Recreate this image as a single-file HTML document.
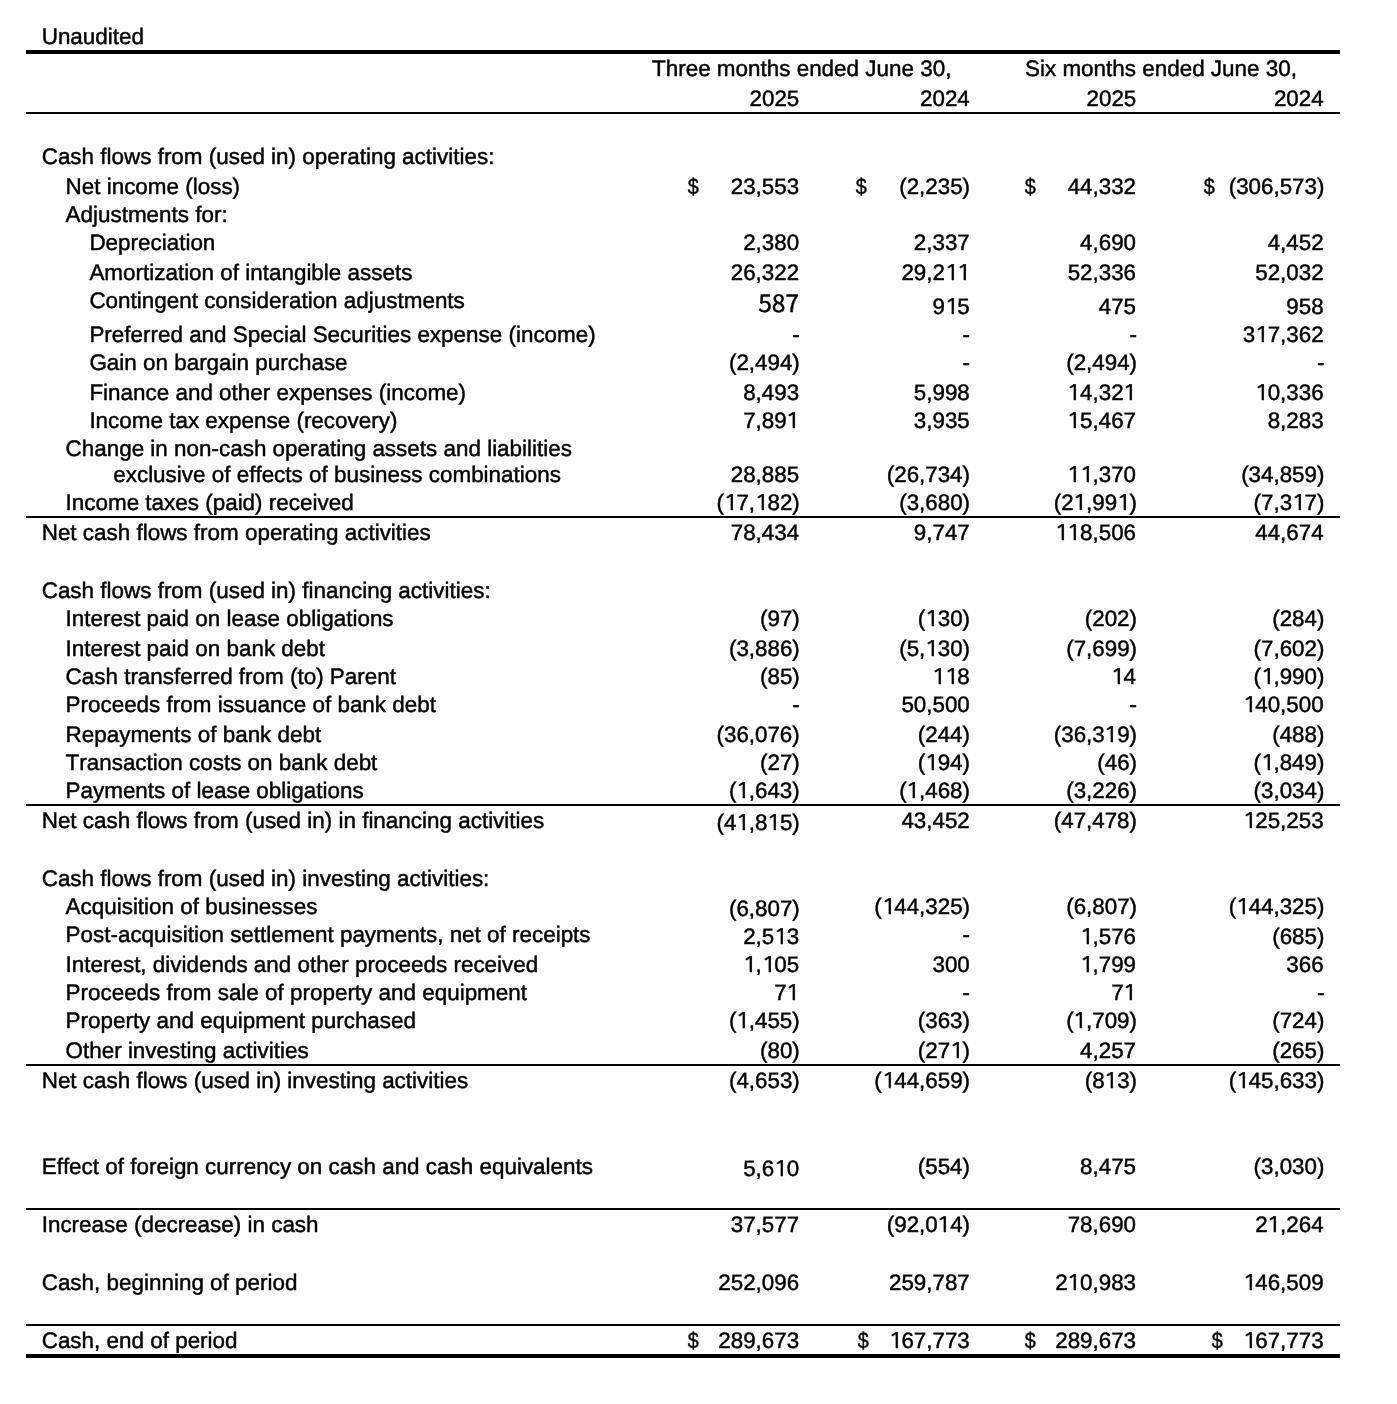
<!DOCTYPE html>
<html lang="en"><head><meta charset="utf-8"><title>Statement of Cash Flows</title>
<style>
html,body{margin:0;padding:0;background:#fff;}
body{width:1397px;height:1404px;position:relative;overflow:hidden;font-family:"Liberation Sans",sans-serif;font-size:22.45px;line-height:25px;color:#000;}
.t{position:absolute;white-space:pre;margin:0;font-kerning:none;-webkit-text-stroke:0.45px #000;text-rendering:geometricPrecision;}
.r{text-align:right;font-size:22.35px;}
.d{transform:scaleX(0.88);transform-origin:6.19px 20px;}
.hr{position:absolute;background:#000;}
.o{display:inline-block;width:0.5836em;line-height:0;font-family:"NanumGothic","Liberation Sans",sans-serif;font-size:21.3px;transform:scaleX(1.243);transform-origin:0 50%;position:relative;left:-1.3px;text-align:left;}
.sp{font-family:"Noto Sans CJK SC","DejaVu Sans",sans-serif;font-size:24.6px;}
</style></head><body>
<div class="hr" style="left:26px;top:50px;width:1314px;height:4px"></div>
<div class="hr" style="left:26px;top:112px;width:1314px;height:2px"></div>
<div class="hr" style="left:26px;top:516px;width:1314px;height:2px"></div>
<div class="hr" style="left:26px;top:804px;width:1314px;height:2px"></div>
<div class="hr" style="left:26px;top:1064px;width:1314px;height:2px"></div>
<div class="hr" style="left:26px;top:1208px;width:1314px;height:2px"></div>
<div class="hr" style="left:26px;top:1324px;width:1314px;height:2px"></div>
<div class="hr" style="left:26px;top:1354px;width:1314px;height:4px"></div>
<div class="t" style="left:652px;top:56px">Three months ended June 30,</div>
<div class="t" style="left:1025px;top:56px">Six months ended June 30,</div>
<div class="t r" style="right:597.7px;top:86px">2025</div>
<div class="t r" style="right:427.2px;top:86px">2024</div>
<div class="t r" style="right:260.7px;top:86px">2025</div>
<div class="t r" style="right:73.4px;top:86px">2024</div>
<div class="t" style="left:41.7px;top:24px">Unaudited</div>
<div class="t" style="left:41.7px;top:144px">Cash flows from (used in) operating activities:</div>
<div class="t" style="left:65.54px;top:174px">Net income (loss)</div>
<div class="t r" style="right:597.9px;top:174px">23,553</div>
<div class="t r" style="right:427px;top:174px">(2,235)</div>
<div class="t r" style="right:261px;top:174px">44,332</div>
<div class="t r" style="right:72.6px;top:174px">(306,573)</div>
<div class="t d" style="left:686.7px;top:174px">$</div>
<div class="t d" style="left:855px;top:174px">$</div>
<div class="t d" style="left:1023.7px;top:174px">$</div>
<div class="t d" style="left:1203px;top:174px">$</div>
<div class="t" style="left:65.54px;top:202px">Adjustments for:</div>
<div class="t" style="left:89.38px;top:230px">Depreciation</div>
<div class="t r" style="right:597.9px;top:230px">2,380</div>
<div class="t r" style="right:427.25px;top:230px">2,337</div>
<div class="t r" style="right:261px;top:230px">4,690</div>
<div class="t r" style="right:73.4px;top:230px">4,452</div>
<div class="t" style="left:89.38px;top:260px">Amortization of intangible assets</div>
<div class="t r" style="right:597.9px;top:260px">26,322</div>
<div class="t r" style="right:427.25px;top:260px">29,2<span class="o">1</span><span class="o">1</span></div>
<div class="t r" style="right:261px;top:260px">52,336</div>
<div class="t r" style="right:73.4px;top:260px">52,032</div>
<div class="t" style="left:89.38px;top:288px">Contingent consideration adjustments</div>
<div class="t r sp" style="right:597.9px;top:290px">587</div>
<div class="t r" style="right:427.25px;top:294px">9<span class="o">1</span>5</div>
<div class="t r" style="right:261px;top:294px">475</div>
<div class="t r" style="right:73.4px;top:294px">958</div>
<div class="t" style="left:89.38px;top:322px">Preferred and Special Securities expense (income)</div>
<div class="t r" style="right:597.25px;top:322px">-</div>
<div class="t r" style="right:427px;top:322px">-</div>
<div class="t r" style="right:260px;top:322px">-</div>
<div class="t r" style="right:73.4px;top:322px">3<span class="o">1</span>7,362</div>
<div class="t" style="left:89.38px;top:350px">Gain on bargain purchase</div>
<div class="t r" style="right:597.25px;top:350px">(2,494)</div>
<div class="t r" style="right:427px;top:350px">-</div>
<div class="t r" style="right:260px;top:350px">(2,494)</div>
<div class="t r" style="right:72.6px;top:350px">-</div>
<div class="t" style="left:89.38px;top:380px">Finance and other expenses (income)</div>
<div class="t r" style="right:597.9px;top:380px">8,493</div>
<div class="t r" style="right:427.25px;top:380px">5,998</div>
<div class="t r" style="right:261px;top:380px"><span class="o">1</span>4,32<span class="o">1</span></div>
<div class="t r" style="right:73.4px;top:380px"><span class="o">1</span>0,336</div>
<div class="t" style="left:89.38px;top:408px">Income tax expense (recovery)</div>
<div class="t r" style="right:597.9px;top:408px">7,89<span class="o">1</span></div>
<div class="t r" style="right:427.25px;top:408px">3,935</div>
<div class="t r" style="right:261px;top:408px"><span class="o">1</span>5,467</div>
<div class="t r" style="right:73.4px;top:408px">8,283</div>
<div class="t" style="left:65.54px;top:436px">Change in non-cash operating assets and liabilities</div>
<div class="t" style="left:113.22px;top:462px">exclusive of effects of business combinations</div>
<div class="t r" style="right:597.9px;top:462px">28,885</div>
<div class="t r" style="right:427px;top:462px">(26,734)</div>
<div class="t r" style="right:261px;top:462px"><span class="o">1</span><span class="o">1</span>,370</div>
<div class="t r" style="right:72.6px;top:462px">(34,859)</div>
<div class="t" style="left:65.54px;top:490px">Income taxes (paid) received</div>
<div class="t r" style="right:597.25px;top:490px">(<span class="o">1</span>7,<span class="o">1</span>82)</div>
<div class="t r" style="right:427px;top:490px">(3,680)</div>
<div class="t r" style="right:260px;top:490px">(2<span class="o">1</span>,99<span class="o">1</span>)</div>
<div class="t r" style="right:72.6px;top:490px">(7,3<span class="o">1</span>7)</div>
<div class="t" style="left:41.7px;top:520px">Net cash flows from operating activities</div>
<div class="t r" style="right:597.9px;top:520px">78,434</div>
<div class="t r" style="right:427.25px;top:520px">9,747</div>
<div class="t r" style="right:261px;top:520px"><span class="o">1</span><span class="o">1</span>8,506</div>
<div class="t r" style="right:73.4px;top:520px">44,674</div>
<div class="t" style="left:41.7px;top:578px">Cash flows from (used in) financing activities:</div>
<div class="t" style="left:65.54px;top:606px">Interest paid on lease obligations</div>
<div class="t r" style="right:597.25px;top:606px">(97)</div>
<div class="t r" style="right:427px;top:606px">(<span class="o">1</span>30)</div>
<div class="t r" style="right:260px;top:606px">(202)</div>
<div class="t r" style="right:72.6px;top:606px">(284)</div>
<div class="t" style="left:65.54px;top:636px">Interest paid on bank debt</div>
<div class="t r" style="right:597.25px;top:636px">(3,886)</div>
<div class="t r" style="right:427px;top:636px">(5,<span class="o">1</span>30)</div>
<div class="t r" style="right:260px;top:636px">(7,699)</div>
<div class="t r" style="right:72.6px;top:636px">(7,602)</div>
<div class="t" style="left:65.54px;top:664px">Cash transferred from (to) Parent</div>
<div class="t r" style="right:597.25px;top:664px">(85)</div>
<div class="t r" style="right:427.25px;top:664px"><span class="o">1</span><span class="o">1</span>8</div>
<div class="t r" style="right:261px;top:664px"><span class="o">1</span>4</div>
<div class="t r" style="right:72.6px;top:664px">(<span class="o">1</span>,990)</div>
<div class="t" style="left:65.54px;top:692px">Proceeds from issuance of bank debt</div>
<div class="t r" style="right:597.25px;top:692px">-</div>
<div class="t r" style="right:427.25px;top:692px">50,500</div>
<div class="t r" style="right:260px;top:692px">-</div>
<div class="t r" style="right:73.4px;top:692px"><span class="o">1</span>40,500</div>
<div class="t" style="left:65.54px;top:722px">Repayments of bank debt</div>
<div class="t r" style="right:597.25px;top:722px">(36,076)</div>
<div class="t r" style="right:427px;top:722px">(244)</div>
<div class="t r" style="right:260px;top:722px">(36,3<span class="o">1</span>9)</div>
<div class="t r" style="right:72.6px;top:722px">(488)</div>
<div class="t" style="left:65.54px;top:750px">Transaction costs on bank debt</div>
<div class="t r" style="right:597.25px;top:750px">(27)</div>
<div class="t r" style="right:427px;top:750px">(<span class="o">1</span>94)</div>
<div class="t r" style="right:260px;top:750px">(46)</div>
<div class="t r" style="right:72.6px;top:750px">(<span class="o">1</span>,849)</div>
<div class="t" style="left:65.54px;top:778px">Payments of lease obligations</div>
<div class="t r" style="right:597.25px;top:778px">(<span class="o">1</span>,643)</div>
<div class="t r" style="right:427px;top:778px">(<span class="o">1</span>,468)</div>
<div class="t r" style="right:260px;top:778px">(3,226)</div>
<div class="t r" style="right:72.6px;top:778px">(3,034)</div>
<div class="t" style="left:41.7px;top:808px">Net cash flows from (used in) in financing activities</div>
<div class="t r" style="right:597.25px;top:810px">(4<span class="o">1</span>,8<span class="o">1</span>5)</div>
<div class="t r" style="right:427.25px;top:808px">43,452</div>
<div class="t r" style="right:260px;top:808px">(47,478)</div>
<div class="t r" style="right:73.4px;top:808px"><span class="o">1</span>25,253</div>
<div class="t" style="left:41.7px;top:866px">Cash flows from (used in) investing activities:</div>
<div class="t" style="left:65.54px;top:894px">Acquisition of businesses</div>
<div class="t r" style="right:597.25px;top:896px">(6,807)</div>
<div class="t r" style="right:427px;top:894px">(<span class="o">1</span>44,325)</div>
<div class="t r" style="right:260px;top:894px">(6,807)</div>
<div class="t r" style="right:72.6px;top:894px">(<span class="o">1</span>44,325)</div>
<div class="t" style="left:65.54px;top:922px">Post-acquisition settlement payments, net of receipts</div>
<div class="t r" style="right:597.9px;top:924px">2,5<span class="o">1</span>3</div>
<div class="t r" style="right:427px;top:922px">-</div>
<div class="t r" style="right:261px;top:924px"><span class="o">1</span>,576</div>
<div class="t r" style="right:72.6px;top:924px">(685)</div>
<div class="t" style="left:65.54px;top:952px">Interest, dividends and other proceeds received</div>
<div class="t r" style="right:597.9px;top:952px"><span class="o">1</span>,<span class="o">1</span>05</div>
<div class="t r" style="right:427.25px;top:952px">300</div>
<div class="t r" style="right:261px;top:952px"><span class="o">1</span>,799</div>
<div class="t r" style="right:73.4px;top:952px">366</div>
<div class="t" style="left:65.54px;top:980px">Proceeds from sale of property and equipment</div>
<div class="t r" style="right:597.9px;top:980px">7<span class="o">1</span></div>
<div class="t r" style="right:427px;top:980px">-</div>
<div class="t r" style="right:261px;top:980px">7<span class="o">1</span></div>
<div class="t r" style="right:72.6px;top:980px">-</div>
<div class="t" style="left:65.54px;top:1008px">Property and equipment purchased</div>
<div class="t r" style="right:597.25px;top:1008px">(<span class="o">1</span>,455)</div>
<div class="t r" style="right:427px;top:1008px">(363)</div>
<div class="t r" style="right:260px;top:1008px">(<span class="o">1</span>,709)</div>
<div class="t r" style="right:72.6px;top:1008px">(724)</div>
<div class="t" style="left:65.54px;top:1038px">Other investing activities</div>
<div class="t r" style="right:597.25px;top:1038px">(80)</div>
<div class="t r" style="right:427px;top:1038px">(27<span class="o">1</span>)</div>
<div class="t r" style="right:261px;top:1038px">4,257</div>
<div class="t r" style="right:72.6px;top:1038px">(265)</div>
<div class="t" style="left:41.7px;top:1068px">Net cash flows (used in) investing activities</div>
<div class="t r" style="right:597.25px;top:1068px">(4,653)</div>
<div class="t r" style="right:427px;top:1068px">(<span class="o">1</span>44,659)</div>
<div class="t r" style="right:260px;top:1068px">(8<span class="o">1</span>3)</div>
<div class="t r" style="right:72.6px;top:1068px">(<span class="o">1</span>45,633)</div>
<div class="t" style="left:41.7px;top:1154px">Effect of foreign currency on cash and cash equivalents</div>
<div class="t r" style="right:597.9px;top:1156px">5,6<span class="o">1</span>0</div>
<div class="t r" style="right:427px;top:1154px">(554)</div>
<div class="t r" style="right:261px;top:1154px">8,475</div>
<div class="t r" style="right:72.6px;top:1154px">(3,030)</div>
<div class="t" style="left:41.7px;top:1212px">Increase (decrease) in cash</div>
<div class="t r" style="right:597.9px;top:1212px">37,577</div>
<div class="t r" style="right:427px;top:1212px">(92,0<span class="o">1</span>4)</div>
<div class="t r" style="right:261px;top:1212px">78,690</div>
<div class="t r" style="right:73.4px;top:1212px">2<span class="o">1</span>,264</div>
<div class="t" style="left:41.7px;top:1270px">Cash, beginning of period</div>
<div class="t r" style="right:597.9px;top:1270px">252,096</div>
<div class="t r" style="right:427.25px;top:1270px">259,787</div>
<div class="t r" style="right:261px;top:1270px">2<span class="o">1</span>0,983</div>
<div class="t r" style="right:73.4px;top:1270px"><span class="o">1</span>46,509</div>
<div class="t" style="left:41.7px;top:1328px">Cash, end of period</div>
<div class="t r" style="right:597.9px;top:1328px">289,673</div>
<div class="t r" style="right:427.25px;top:1328px"><span class="o">1</span>67,773</div>
<div class="t r" style="right:261px;top:1328px">289,673</div>
<div class="t r" style="right:73.4px;top:1328px"><span class="o">1</span>67,773</div>
<div class="t d" style="left:686.7px;top:1328px">$</div>
<div class="t d" style="left:857px;top:1328px">$</div>
<div class="t d" style="left:1023.7px;top:1328px">$</div>
<div class="t d" style="left:1211px;top:1328px">$</div>
</body></html>
